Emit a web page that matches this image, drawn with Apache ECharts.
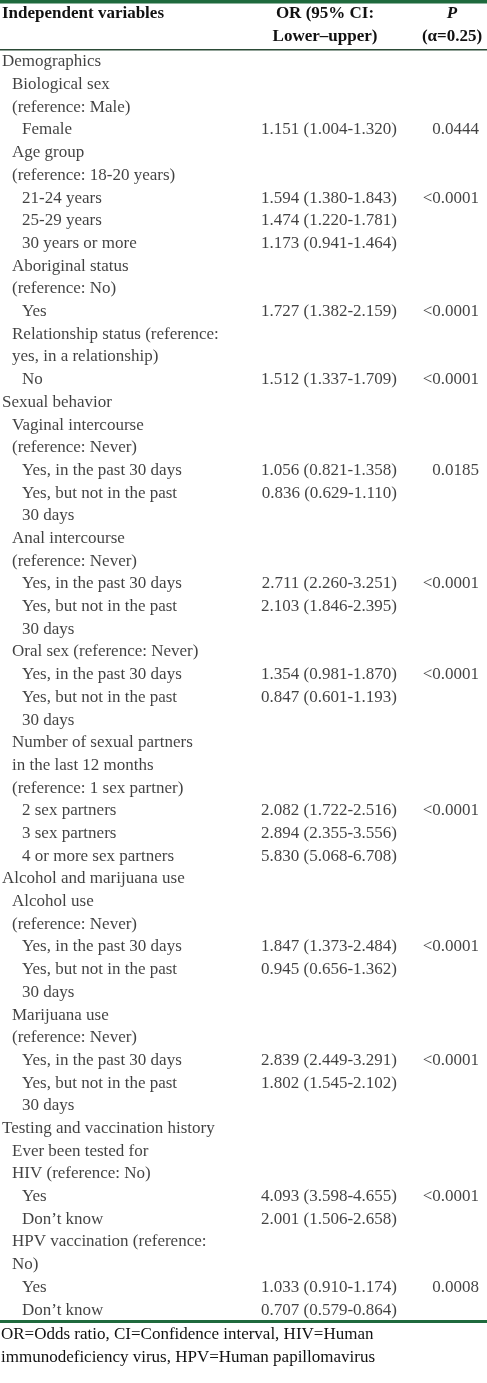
<!DOCTYPE html>
<html><head><meta charset="utf-8">
<script src="https://cdn.jsdelivr.net/npm/echarts@6/dist/echarts.min.js"></script>
<style>html,body{margin:0;padding:0;background:#fff}#c{width:487px;height:1383px}</style>
</head><body><div id="c"></div>
<script>
// each visual line of the table: [indent level, label text]
const rowLabels = [
 [0,"Demographics"],[1,"Biological sex"],[1,"(reference: Male)"],[2,"Female"],
 [1,"Age group"],[1,"(reference: 18-20 years)"],[2,"21-24 years"],[2,"25-29 years"],[2,"30 years or more"],
 [1,"Aboriginal status"],[1,"(reference: No)"],[2,"Yes"],
 [1,"Relationship status (reference:"],[1,"yes, in a relationship)"],[2,"No"],
 [0,"Sexual behavior"],[1,"Vaginal intercourse"],[1,"(reference: Never)"],[2,"Yes, in the past 30 days"],[2,"Yes, but not in the past"],[2,"30 days"],
 [1,"Anal intercourse"],[1,"(reference: Never)"],[2,"Yes, in the past 30 days"],[2,"Yes, but not in the past"],[2,"30 days"],
 [1,"Oral sex (reference: Never)"],[2,"Yes, in the past 30 days"],[2,"Yes, but not in the past"],[2,"30 days"],
 [1,"Number of sexual partners"],[1,"in the last 12 months"],[1,"(reference: 1 sex partner)"],[2,"2 sex partners"],[2,"3 sex partners"],[2,"4 or more sex partners"],
 [0,"Alcohol and marijuana use"],[1,"Alcohol use"],[1,"(reference: Never)"],[2,"Yes, in the past 30 days"],[2,"Yes, but not in the past"],[2,"30 days"],
 [1,"Marijuana use"],[1,"(reference: Never)"],[2,"Yes, in the past 30 days"],[2,"Yes, but not in the past"],[2,"30 days"],
 [0,"Testing and vaccination history"],[1,"Ever been tested for"],[1,"HIV (reference: No)"],[2,"Yes"],[2,"Don\u2019t know"],
 [1,"HPV vaccination (reference:"],[1,"No)"],[2,"Yes"],[2,"Don\u2019t know"]
];
// OR (95% CI) by line index
const orValues = {3:"1.151 (1.004-1.320)",6:"1.594 (1.380-1.843)",7:"1.474 (1.220-1.781)",8:"1.173 (0.941-1.464)",
 11:"1.727 (1.382-2.159)",14:"1.512 (1.337-1.709)",18:"1.056 (0.821-1.358)",19:"0.836 (0.629-1.110)",
 23:"2.711 (2.260-3.251)",24:"2.103 (1.846-2.395)",27:"1.354 (0.981-1.870)",28:"0.847 (0.601-1.193)",
 33:"2.082 (1.722-2.516)",34:"2.894 (2.355-3.556)",35:"5.830 (5.068-6.708)",39:"1.847 (1.373-2.484)",40:"0.945 (0.656-1.362)",
 44:"2.839 (2.449-3.291)",45:"1.802 (1.545-2.102)",50:"4.093 (3.598-4.655)",51:"2.001 (1.506-2.658)",54:"1.033 (0.910-1.174)",55:"0.707 (0.579-0.864)"};
const pValues = {3:"0.0444",6:"<0.0001",11:"<0.0001",14:"<0.0001",18:"0.0185",23:"<0.0001",27:"<0.0001",33:"<0.0001",39:"<0.0001",44:"<0.0001",50:"<0.0001",54:"0.0008"};
const headers = ["Independent variables","OR (95% CI:","Lower\u2013upper)","P","(\u03b1=0.25)"];
const footnote = ["OR=Odds ratio, CI=Confidence interval, HIV=Human","immunodeficiency virus, HPV=Human papillomavirus"];

const cats = rowLabels.map((r,i)=>String(i));
const FS = 17;
const font = {fontFamily:"Liberation Serif, DejaVu Serif, serif", fontSize:FS, color:"#111"};
const green = "#1f6a3d";
function textSeries(data, align){
  return {type:"scatter", symbolSize:0, silent:true, data,
    label:{show:true, position: align==="left"?"right":"left", distance:0, formatter:p=>p.data.t, ...font}};
}
const labelData = rowLabels.map((r,i)=>({value:[2+r[0]*10, String(i)], t:r[1]}));
const orData = Object.keys(orValues).map(k=>({value:[397,String(k)], t:orValues[k]}));
const pData = Object.keys(pValues).map(k=>({value:[479,String(k)], t:pValues[k]}));

const chart = echarts.init(document.getElementById("c"), null, {renderer:"canvas"});
const hb = {fontFamily:font.fontFamily, fontSize:FS, fontWeight:"bold", fill:"#111"};
const fn = {fontFamily:font.fontFamily, fontSize:FS, fill:"#111", verticalAlign:"middle"};
chart.setOption({
  animation:false,
  grid:{left:0,right:0,top:50.6,bottom:61.6},
  xAxis:{type:"value",min:0,max:487,show:false},
  yAxis:{type:"category",data:cats,inverse:true,show:false},
  series:[textSeries(labelData,"left"),textSeries(orData,"right"),textSeries(pData,"right")],
  graphic:[
    {type:"rect",shape:{x:0,y:0,width:487,height:3.5},style:{fill:green}},
    {type:"rect",shape:{x:0,y:49,width:487,height:1.5},style:{fill:"#2b4a36"}},
    {type:"rect",shape:{x:0,y:1320,width:487,height:3},style:{fill:green}},
    {type:"text",x:2,y:14,style:{...hb,text:headers[0],verticalAlign:"middle"}},
    {type:"text",x:325,y:14,style:{...hb,text:headers[1],align:"center",verticalAlign:"middle"}},
    {type:"text",x:325,y:37,style:{...hb,text:headers[2],align:"center",verticalAlign:"middle"}},
    {type:"text",x:452,y:14,style:{...hb,fontStyle:"italic",text:headers[3],align:"center",verticalAlign:"middle"}},
    {type:"text",x:452,y:37,style:{...hb,text:headers[4],align:"center",verticalAlign:"middle"}},
    {type:"text",x:1,y:1335,style:{...fn,text:footnote[0]}},
    {type:"text",x:1,y:1358,style:{...fn,text:footnote[1]}}
  ]
});
</script></body></html>
